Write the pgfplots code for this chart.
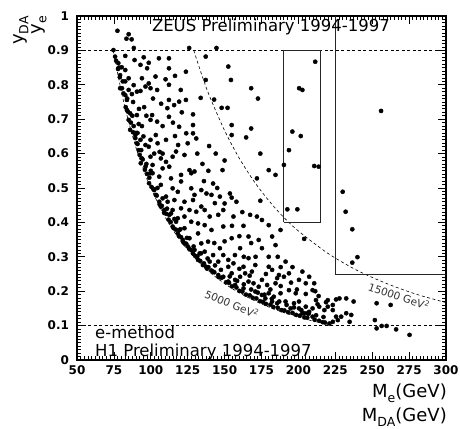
\documentclass[border=0pt]{standalone}
\usepackage{fontspec}
\setmainfont{DejaVu Sans}
\usepackage{pgfplots}
\pgfplotsset{compat=1.18}
\newcommand{\sbs}[1]{\raisebox{-0.28em}{\fontsize{12.5}{12.5}\selectfont #1}}
\begin{document}
\begin{tikzpicture}
\begin{axis}[
  width=369pt, height=344pt, scale only axis,
  xmin=50, xmax=300, ymin=0, ymax=1,
  xtick={50,75,100,125,150,175,200,225,250,275,300},
  ytick={0,0.1,0.2,0.3,0.4,0.5,0.6,0.7,0.8,0.9,1},
  yticklabels={0,0.1,0.2,0.3,0.4,0.5,0.6,0.7,0.8,0.9,1},
  minor x tick num=9, minor y tick num=9,
  tick align=inside,
  major tick length=8pt, minor tick length=4pt,
  axis line style={line width=1.3pt},
  tick style={black, line width=0.8pt},
  /pgf/number format/assume math mode=true,
  ticklabel style={font=\bfseries\fontsize{12}{12}\selectfont},
  yticklabel style={xshift=-4.5pt},
  xticklabel style={yshift=-2pt},
  clip=false,
]
% horizontal dashed limits
\addplot[black, line width=0.6pt, dash pattern=on 3pt off 2.5pt] coordinates {(50,0.9) (300,0.9)};
\addplot[black, line width=0.6pt, dash pattern=on 3pt off 2.5pt] coordinates {(50,0.1) (300,0.1)};
% Q2 = 5000 GeV^2
\addplot[black, line width=0.6pt, dash pattern=on 3pt off 2.5pt, smooth] coordinates {
(74.5,0.9) (80,0.781) (85,0.692) (90,0.617) (95,0.554) (100,0.5) (110,0.413) (120,0.347)
(130,0.296) (140,0.255) (150,0.222) (160,0.195) (170,0.173) (180,0.154) (190,0.138)
(200,0.125) (210,0.113) (223.6,0.1)};
% Q2 = 15000 GeV^2
\addplot[black, line width=0.6pt, dash pattern=on 3pt off 2.5pt, smooth] coordinates {
(129.1,0.9) (135,0.823) (140,0.765) (150,0.667) (160,0.586) (170,0.519) (180,0.463)
(190,0.415) (200,0.375) (220,0.31) (240,0.26) (260,0.222) (280,0.191) (300,0.167)};
% boxes
\addplot[black!85, line width=0.9pt] coordinates {(190,0.4) (215,0.4) (215,0.9) (190,0.9) (190,0.4)};
\addplot[black!85, line width=0.9pt] coordinates {(225,1) (225,0.25) (300,0.25)};
% events
\addplot[only marks, mark=*, mark size=2.1pt, black] coordinates {
(77.4,0.957) (85,0.947) (83.5,0.934) (87,0.932) (88.5,0.907) (126,0.907) (144.5,0.907)
(74.7,0.901) (75.8,0.882) (82.7,0.884) (89,0.872) (95.2,0.88) (105.5,0.877) (112.3,0.877)
(98.6,0.864) (93,0.858) (78,0.863) (80.3,0.851) (82.7,0.843) (97.5,0.848) (112.3,0.848)
(123.8,0.838) (79.2,0.828) (85,0.819) (94,0.819) (103.2,0.824) (110,0.816) (82.7,0.81)
(98.6,0.804) (88.4,0.799) (79.2,0.79) (85,0.785) (90.6,0.78) (96.4,0.795) (99.8,0.79)
(104.3,0.785) (112.3,0.8) (120.3,0.785) (82.7,0.77) (87.2,0.773) (93,0.782) (83.8,0.756)
(112.3,0.756) (119.2,0.751) (123.8,0.756) (115.8,0.741) (111.2,0.732) (83.8,0.727) (86,0.717)
(90.6,0.712) (112.3,0.707) (100.9,0.712) (85,0.698) (99.8,0.698) (104.3,0.693) (91.8,0.686)
(88.4,0.68) (94,0.68) (119.2,0.678) (86,0.669) (89.5,0.654) (93,0.64) (99.8,0.64)
(90.6,0.63) (96.4,0.625) (98.6,0.62) (91.8,0.61) (99.8,0.591) (94,0.586) (96.4,0.562)
(99.8,0.543)
(137.2,0.882) (152.5,0.853) (137.2,0.814) (154.3,0.814) (168,0.79) (133.8,0.762) (142.9,0.757)
(172.6,0.76) (148,0.733) (152,0.733) (128.6,0.714) (128.6,0.683) (154.8,0.683) (168,0.673)
(116.4,0.826)
(211.4,0.867) (200.5,0.79) (202.7,0.785) (195.9,0.664) (201.6,0.651) (193.6,0.61) (190.2,0.567)
(210.7,0.564) (213.7,0.562) (192.5,0.438) (199.3,0.438) (256,0.724) (230,0.489) (232,0.431)
(236.5,0.38) (240,0.299) (236.5,0.283) (203.9,0.352)
(103.4,0.654) (104.6,0.63) (110.3,0.64) (116.4,0.651) (124,0.659) (128.6,0.659) (130.8,0.644)
(139.5,0.622) (154.8,0.654) (164.6,0.647) (174.2,0.6) (117.1,0.606) (114.8,0.591) (122.8,0.596)
(106.8,0.586) (102.3,0.6) (110.3,0.576) (112.5,0.562) (108,0.557) (101.2,0.567) (126.2,0.552)
(129.6,0.548) (127.4,0.543) (120.5,0.538) (148.6,0.552) (179.9,0.552) (184.5,0.538) (171.9,0.528)
(113.7,0.528) (105.7,0.533) (101.2,0.543) (120.5,0.519) (142.2,0.513) (106.8,0.509) (102.3,0.494)
(114.8,0.499) (118.3,0.489) (127.4,0.499) (134.2,0.494) (137.7,0.484) (129.6,0.48) (141.1,0.48)
(146.8,0.475) (153.6,0.484) (154.8,0.472) (103.4,0.48) (110.3,0.475) (105.7,0.46) (111.4,0.46)
(116,0.465) (122.8,0.46) (128.6,0.465) (174.2,0.463) (143.4,0.456) (134.2,0.446) (109.1,0.436)
(114.8,0.436) (120.5,0.441) (126.2,0.436) (130.8,0.431) (136.5,0.436) (149.1,0.436) (167.3,0.422)
(171.9,0.417) (175.3,0.407) (112.5,0.422) (122.8,0.417) (118.3,0.412) (139.9,0.417) (145.7,0.422)
(156,0.417) (127.4,0.402) (132,0.397) (136.5,0.392) (149.1,0.388) (162.8,0.39) (179.9,0.392)
(122.8,0.383) (119.4,0.378) (141.1,0.378) (154.8,0.354) (166.2,0.359) (173.1,0.349) (182.2,0.359)
(187.9,0.378) (132,0.368) (126.2,0.354) (122.8,0.339) (134.2,0.339) (138.8,0.344) (146.8,0.325)
(160.5,0.325) (175.3,0.325) (184.5,0.334) (129.6,0.32) (136.5,0.315) (142.2,0.305) (149.1,0.305)
(139.9,0.286) (145.7,0.286) (152.5,0.291) (156,0.281) (166.2,0.296) (179.9,0.3) (152.5,0.271)
(162.8,0.271) (170.8,0.276) (179.9,0.271) (191.3,0.286)
(93.2,0.572) (98.8,0.514) (114.8,0.388) (118.3,0.368) (121.7,0.349) (125.1,0.33) (128.6,0.31)
(132,0.291) (135.3,0.276) (133.1,0.31) (106.8,0.446) (113.7,0.426) (117.1,0.402) (138,0.266)
(142.2,0.257) (145.7,0.247) (149.1,0.242) (154.8,0.252) (157.1,0.233) (160.5,0.242) (163.9,0.252)
(168.5,0.257) (166.2,0.228) (169.6,0.223) (175.3,0.233) (173.1,0.213) (178.8,0.218) (184.5,0.223)
(185.6,0.238) (190.2,0.242) (179.9,0.194) (183.3,0.184) (187.9,0.194) (193.6,0.203) (198.2,0.194)
(191.3,0.17) (197,0.165) (200.4,0.17) (205,0.155) (207.3,0.14) (203.9,0.136) (200.4,0.15)
(194.7,0.15) (185.6,0.165) (182.2,0.17) (177.6,0.179) (157.1,0.218) (152.5,0.228) (162.8,0.208)
(170.8,0.199) (175.3,0.189) (209.6,0.126)
(182.2,0.262) (186.8,0.247) (193.6,0.252) (202.7,0.257) (207.3,0.242) (200.4,0.233) (205,0.223)
(209.6,0.203) (211.9,0.174) (219.9,0.174) (223.3,0.16) (214.1,0.155) (217.6,0.145) (227.8,0.179)
(225.5,0.126) (223.3,0.111)
(210.7,0.223) (211.4,0.2) (205,0.192) (213.7,0.186) (218.7,0.168) (225.5,0.176) (232.4,0.179)
(237.4,0.17) (253,0.165) (262.5,0.16) (213,0.162) (209.6,0.15) (219.9,0.155) (223.3,0.145)
(202.7,0.136) (206.2,0.136) (232.4,0.136) (235.8,0.131) (229,0.126) (226.7,0.116) (234.7,0.111)
(251.8,0.116) (253,0.092) (256.4,0.099) (259.8,0.099) (266.2,0.089) (275.3,0.073)
(76.5,0.870) (77.8,0.846) (79,0.822) (80.5,0.79) (81.5,0.775) (83,0.735) (84.5,0.722)
(86.5,0.69) (88,0.662) (89.5,0.645) (91,0.628) (92.5,0.596) (94.5,0.583) (96,0.553)
(97.5,0.541) (99,0.53) (100.5,0.503) (102,0.497) (104,0.478) (106,0.452) (107.5,0.448)
(109,0.428) (110.5,0.425) (112,0.408) (113.5,0.401) (115.5,0.383) (117,0.379) (119,0.361)
(120.5,0.357) (122,0.343) (124,0.338) (126,0.324) (127.5,0.319) (130,0.303) (131.5,0.301)
(133.5,0.288) (136,0.281) (137.5,0.271) (139,0.270) (141,0.26) (143,0.255) (146,0.241)
(148,0.239) (151,0.226) (153,0.224) (155,0.214) (158,0.211) (160,0.201) (162,0.199)
(164.5,0.19) (167,0.188) (169,0.181) (171.5,0.179) (174,0.171) (176,0.169) (178,0.163)
(181,0.161) (183,0.154) (186,0.152) (188.5,0.145) (190.5,0.144) (193,0.139) (196,0.137)
(198.5,0.131) (201,0.129) (204,0.124) (206,0.123) (211,0.117) (214,0.114) (216.5,0.11)
(218,0.109) (221,0.106)
(78.5,0.85) (81,0.81) (84,0.76) (87.5,0.71) (90,0.66) (93.5,0.61) (97,0.57)
(100,0.55) (104.5,0.5) (108,0.47) (111,0.44) (116,0.41) (120,0.38) (124.5,0.355)
(129,0.33) (134,0.31) (138.5,0.295) (143.5,0.275) (147.5,0.262) (153.5,0.243) (158.5,0.23)
(163,0.22) (168,0.205) (172.5,0.196) (177,0.19) (182,0.178) (187,0.17) (192,0.16)
(197,0.153) (202,0.145) (207,0.135) (212,0.13) (217,0.125)
(101.5,0.76) (107,0.745) (95.5,0.735) (108,0.68) (115,0.69) (121,0.72) (106,0.605)
(118.5,0.625) (125,0.63) (131.5,0.6) (135,0.57) (139,0.55) (144,0.6) (150,0.58)
(136,0.52) (145,0.5) (150,0.455) (158,0.46) (162,0.43) (155,0.39) (160,0.36)
(168,0.34) (143,0.34) (150,0.345) (157,0.305) (163,0.3) (171,0.3) (186,0.3)
(188,0.27) (196,0.27) (178,0.25) (195,0.225) (188,0.215) (181,0.205) (199,0.205)
(160,0.265) (167,0.245) (108,0.6) (88,0.75) (92,0.73) (97,0.71) (91,0.66) (95,0.65)
};
% annotations
\node[anchor=base, inner sep=0pt, font=\fontsize{16.5}{16.5}\selectfont] at (axis cs:181.4,0.9535) {ZEUS Preliminary 1994-1997};
\node[anchor=base west, inner sep=0pt, font=\fontsize{16.5}{16.5}\selectfont] at (axis cs:62.2,0.0625) {e-method};
\node[anchor=base west, inner sep=0pt, font=\fontsize{16.5}{16.5}\selectfont] at (axis cs:62.2,0.0116) {H1 Preliminary 1994-1997};
\node[rotate=-23, inner sep=0pt, text=black!80, font=\fontsize{10.5}{10.5}\selectfont] at (axis cs:155,0.163) {5000 GeV\textsuperscript{2}};
\node[rotate=-19, inner sep=0pt, text=black!80, font=\fontsize{10.5}{10.5}\selectfont] at (axis cs:268.2,0.186) {15000 GeV\textsuperscript{2}};
\end{axis}
% axis titles
\node[rotate=90, anchor=east, inner sep=0pt] at ([shift={(-56pt,0pt)}]current axis.north west) {\fontsize{18}{18}\selectfont y\sbs{DA}};
\node[rotate=90, anchor=east, inner sep=0pt] at ([shift={(-38pt,0pt)}]current axis.north west) {\fontsize{18}{18}\selectfont y\sbs{e}};
\node[anchor=base east, inner sep=0pt] at ([shift={(1pt,-37pt)}]current axis.south east) {\fontsize{18}{18}\selectfont M\sbs{e}(GeV)};
\node[anchor=base east, inner sep=0pt] at ([shift={(1pt,-61pt)}]current axis.south east) {\fontsize{18}{18}\selectfont M\sbs{DA}(GeV)};
\pgfresetboundingbox
\path ([shift={(-77pt,-68pt)}]current axis.south west) rectangle ([shift={(14pt,16pt)}]current axis.north east);
\end{tikzpicture}
\end{document}
